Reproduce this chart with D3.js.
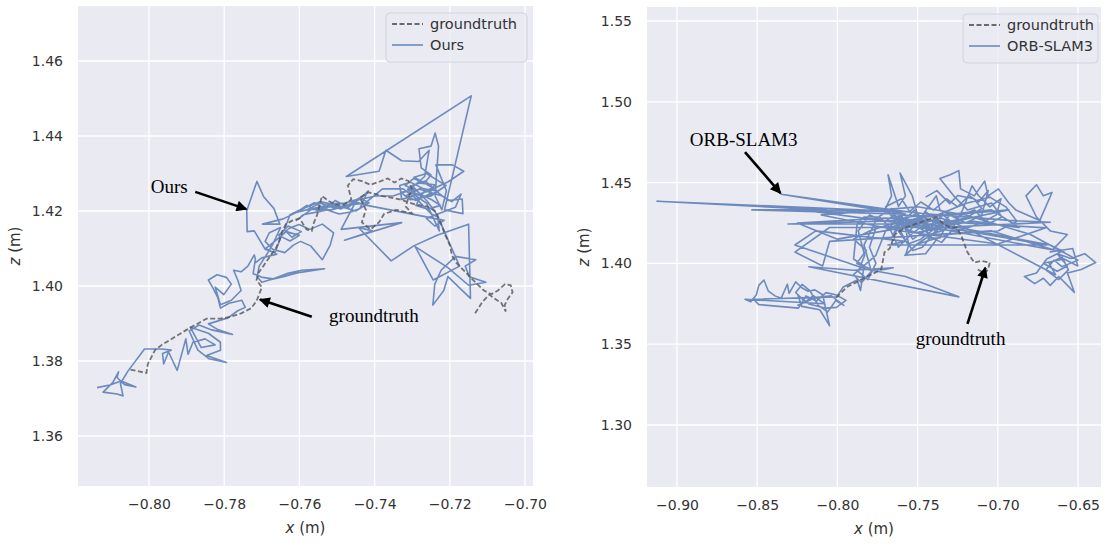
<!DOCTYPE html>
<html>
<head>
<meta charset="utf-8">
<script src="https://cdn.jsdelivr.net/npm/d3@7"></script>
<style>
  body { margin: 0; background: #fff; }
  svg { display: block; }
  .tick text { font-family: "DejaVu Sans", sans-serif; font-size: 14px; fill: #333; }
</style>
</head>
<body>
<svg></svg>
<script>
let width = 1105, height = 549;

// ---- data (metres) ----
// left panel: groundtruth and "Ours" trajectory, [x, z]
var gtLeft = [
  [-0.8049,1.3777],[-0.8007,1.3768],[-0.8003,1.3792],[-0.7984,1.3829],[-0.7966,1.3843],
  [-0.7897,1.3885],[-0.7847,1.3913],[-0.7810,1.3913],[-0.7783,1.3918],[-0.7755,1.3927],
  [-0.7728,1.3941],[-0.7714,1.3960],[-0.7705,1.3983],[-0.7700,1.3997],[-0.7714,1.4016],
  [-0.7709,1.4035],[-0.7696,1.4053],[-0.7677,1.4081],[-0.7663,1.4100],[-0.7654,1.4119],
  [-0.7645,1.4147],[-0.7636,1.4165],[-0.7618,1.4175],[-0.7599,1.4180],[-0.7590,1.4165],
  [-0.7581,1.4151],[-0.7567,1.4147],[-0.7563,1.4165],[-0.7553,1.4189],[-0.7540,1.4240],
  [-0.7521,1.4226],[-0.7503,1.4217],[-0.7480,1.4217],[-0.7462,1.4231],[-0.7471,1.4268],
  [-0.7457,1.4285],[-0.7434,1.4280],[-0.7411,1.4270],[-0.7388,1.4278],[-0.7365,1.4287],
  [-0.7347,1.4276],[-0.7329,1.4287],[-0.7310,1.4280],[-0.7301,1.4259],[-0.7310,1.4236],
  [-0.7317,1.4212],[-0.7301,1.4194],[-0.7343,1.4203],[-0.7375,1.4192],[-0.7388,1.4170],
  [-0.7411,1.4151],[-0.7434,1.4170],[-0.7423,1.4203],[-0.7439,1.4236],[-0.7416,1.4250],
  [-0.7379,1.4240],[-0.7333,1.4231],[-0.7291,1.4217],[-0.7260,1.4212],[-0.7237,1.4198],
  [-0.7223,1.4165],[-0.7212,1.4136],[-0.7200,1.4109],[-0.7194,1.4081],[-0.7182,1.4061],
  [-0.7163,1.4042],[-0.7145,1.4023],[-0.7127,1.4005],[-0.7109,1.3988],[-0.7090,1.3978],
  [-0.7072,1.3988],[-0.7053,1.4005],[-0.7038,1.4002],[-0.7033,1.3983],[-0.7045,1.3967],
  [-0.7054,1.3949],[-0.7051,1.3932],[-0.7063,1.3955],[-0.7077,1.3964],[-0.7095,1.3977],
  [-0.7113,1.3958],[-0.7127,1.3936],[-0.7136,1.3922]
];

var oursTraj = [
  [-0.8138,1.3729],[-0.8104,1.3736],[-0.8074,1.3747],[-0.8035,1.3731],[-0.8065,1.3737],
  [-0.8085,1.3756],[-0.8081,1.3771],[-0.8096,1.3743],[-0.8122,1.3717],[-0.8085,1.3712],
  [-0.8069,1.3707],[-0.8076,1.3740],[-0.8056,1.3773],[-0.8012,1.3832],[-0.7966,1.3832],
  [-0.7941,1.3829],[-0.7964,1.3820],[-0.7961,1.3792],[-0.7948,1.3824],[-0.7925,1.3775],
  [-0.7902,1.3859],[-0.7896,1.3818],[-0.7883,1.3850],[-0.7851,1.3859],[-0.7824,1.3843],
  [-0.7861,1.3836],[-0.7890,1.3890],[-0.7842,1.3874],[-0.7810,1.3850],[-0.7810,1.3829],
  [-0.7847,1.3815],[-0.7794,1.3796],[-0.7840,1.3806],[-0.7870,1.3829],[-0.7893,1.3880],
  [-0.7867,1.3896],[-0.7833,1.3883],[-0.7778,1.3871],[-0.7819,1.3885],[-0.7842,1.3899],
  [-0.7790,1.3915],[-0.7764,1.3934],[-0.7744,1.3943],[-0.7753,1.3962],[-0.7787,1.3954],
  [-0.7810,1.3941],[-0.7817,1.3969],[-0.7830,1.3995],[-0.7842,1.4016],[-0.7819,1.4030],
  [-0.7794,1.4023],[-0.7781,1.4005],[-0.7801,1.3977],[-0.7824,1.3997],[-0.7810,1.3950],
  [-0.7781,1.3962],[-0.7755,1.3988],[-0.7764,1.4016],[-0.7775,1.4042],[-0.7755,1.4038],
  [-0.7737,1.4053],[-0.7720,1.4083],[-0.7717,1.4072],[-0.7723,1.4033],[-0.7698,1.4023],
  [-0.7671,1.4019],[-0.7634,1.4033],[-0.7594,1.4042],[-0.7533,1.4046],[-0.7606,1.4035],
  [-0.7643,1.4025],[-0.7680,1.4016],[-0.7700,1.4010],[-0.7712,1.4025],[-0.7707,1.4053],
  [-0.7689,1.4081],[-0.7672,1.4109],[-0.7663,1.4128],[-0.7650,1.4156],[-0.7680,1.4142],
  [-0.7691,1.4119],[-0.7671,1.4098],[-0.7639,1.4089],[-0.7616,1.4109],[-0.7597,1.4119],
  [-0.7570,1.4107],[-0.7539,1.4070],[-0.7518,1.4109],[-0.7509,1.4142],[-0.7539,1.4165],
  [-0.7572,1.4151],[-0.7601,1.4164],[-0.7627,1.4154],[-0.7647,1.4136],[-0.7665,1.4089],
  [-0.7691,1.4098],[-0.7720,1.4147],[-0.7739,1.4145],[-0.7740,1.4201],[-0.7713,1.4279],
  [-0.7695,1.4238],[-0.7668,1.4207],[-0.7652,1.4165],[-0.7698,1.4165],[-0.7643,1.4179],
  [-0.7606,1.4197],[-0.7572,1.4205],[-0.7539,1.4212],[-0.7515,1.4220],[-0.7480,1.4221],
  [-0.7452,1.4229],[-0.7432,1.4238],[-0.7417,1.4254],[-0.7425,1.4238],[-0.7439,1.4207],
  [-0.7461,1.4198],[-0.7494,1.4192],[-0.7526,1.4203],[-0.7555,1.4197],[-0.7590,1.4190],
  [-0.7608,1.4175],[-0.7567,1.4205],[-0.7527,1.4211],[-0.7489,1.4212],[-0.7452,1.4221],
  [-0.7489,1.4151],[-0.7328,1.4169],[-0.7480,1.4122],[-0.7406,1.4147],[-0.7443,1.4156],
  [-0.7356,1.4067],[-0.7296,1.4107],[-0.7232,1.4136],[-0.7150,1.4165],[-0.7145,1.3967],
  [-0.7205,1.4025],[-0.7216,1.3988],[-0.7245,1.3949],[-0.7240,1.4005],[-0.7223,1.4042],
  [-0.7185,1.4079],[-0.7131,1.4070],[-0.7159,1.4053],[-0.7148,1.4025],[-0.7104,1.4010],
  [-0.7150,1.4002],[-0.7205,1.4049],[-0.7292,1.4105],[-0.7244,1.4016],[-0.7174,1.4053],
  [-0.7223,1.4165],[-0.7239,1.4198],[-0.7260,1.4226],[-0.7287,1.4254],[-0.7319,1.4268],
  [-0.7296,1.4287],[-0.7269,1.4273],[-0.7250,1.4296],[-0.7276,1.4315],[-0.7282,1.4366],
  [-0.7250,1.4373],[-0.7239,1.4408],[-0.7230,1.4373],[-0.7239,1.4240],[-0.7221,1.4203],
  [-0.7209,1.4254],[-0.7237,1.4323],[-0.7193,1.4323],[-0.7163,1.4306],[-0.7204,1.4278],
  [-0.7255,1.4254],[-0.7296,1.4240],[-0.7328,1.4231],[-0.7333,1.4268],[-0.7305,1.4277],
  [-0.7269,1.4259],[-0.7237,1.4254],[-0.7204,1.4228],[-0.7167,1.4232],[-0.7165,1.4193],
  [-0.7214,1.4203],[-0.7143,1.4507],[-0.7475,1.4292],[-0.7388,1.4306],[-0.7370,1.4362],
  [-0.7328,1.4334],[-0.7283,1.4332],[-0.7255,1.4362],[-0.7267,1.4292],[-0.7310,1.4254],
  [-0.7351,1.4240],[-0.7397,1.4240],[-0.7439,1.4231],[-0.7480,1.4212],[-0.7516,1.4203],
  [-0.7553,1.4205],[-0.7581,1.4203],[-0.7544,1.4221],[-0.7503,1.4207],[-0.7462,1.4217],
  [-0.7425,1.4221],[-0.7379,1.4259],[-0.7324,1.4259],[-0.7287,1.4231],[-0.7269,1.4212],
  [-0.7250,1.4193],[-0.7232,1.4184],[-0.7228,1.4147],
  [-0.7262,1.4221],[-0.7301,1.4248],[-0.7275,1.4262],[-0.7318,1.4240],[-0.7290,1.4228],
  [-0.7255,1.4245],[-0.7240,1.4270],[-0.7285,1.4275],[-0.7312,1.4258],[-0.7270,1.4236],
  [-0.7232,1.4252],[-0.7265,1.4280],[-0.7300,1.4268],[-0.7280,1.4245],[-0.7248,1.4230],
  [-0.7225,1.4215],[-0.7258,1.4205],[-0.7290,1.4215],[-0.7270,1.4250],[-0.7245,1.4262],
  [-0.7295,1.4290],[-0.7262,1.4300],[-0.7238,1.4285],[-0.7210,1.4268],[-0.7250,1.4240],
  [-0.7305,1.4230],[-0.7330,1.4250],[-0.7280,1.4258],[-0.7220,1.4240],[-0.7195,1.4225],
  [-0.7170,1.4245],[-0.7185,1.4210],[-0.7225,1.4195],[-0.7262,1.4180],[-0.7240,1.4160],
  [-0.7215,1.4175],
  [-0.7420,1.4215],[-0.7455,1.4225],[-0.7490,1.4205],[-0.7520,1.4218],[-0.7550,1.4200],
  [-0.7580,1.4215],[-0.7610,1.4195],[-0.7560,1.4222],[-0.7530,1.4205],[-0.7505,1.4228],
  [-0.7470,1.4210],[-0.7440,1.4235],[-0.7415,1.4222],[-0.7450,1.4200],[-0.7500,1.4215],
  [-0.7545,1.4225],[-0.7595,1.4205],[-0.7625,1.4190],[-0.7640,1.4150],[-0.7620,1.4130],
  [-0.7595,1.4145],[-0.7630,1.4160],[-0.7655,1.4135],[-0.7625,1.4120],[-0.7600,1.4135],
  [-0.7635,1.4145],[-0.7665,1.4120],[-0.7690,1.4100],[-0.7660,1.4085],[-0.7700,1.4075],
  [-0.7720,1.4060]
];

// right panel: groundtruth and ORB-SLAM3 trajectory, [x, z]
var gtRight = [
  [-0.8007,1.3788],[-0.7942,1.3853],[-0.7856,1.3897],[-0.7727,1.3962],[-0.7706,1.4070],
  [-0.7674,1.4092],[-0.7641,1.4179],[-0.7577,1.4222],[-0.7512,1.4244],[-0.7448,1.4266],
  [-0.7383,1.4287],[-0.7340,1.4244],[-0.7297,1.4222],[-0.7254,1.4222],[-0.7222,1.4157],
  [-0.7190,1.4070],[-0.7147,1.4005],[-0.7104,1.4016],[-0.7050,1.4005],[-0.7061,1.3962],
  [-0.7082,1.3940],[-0.7125,1.3962]
];

var orbTraj = [
  [-0.8250,1.3740],[-0.8130,1.3790],[-0.8040,1.3800],[-0.7960,1.3740],[-0.8010,1.3770],
  [-0.8060,1.3700],[-0.8120,1.3740],[-0.8170,1.3830],[-0.8220,1.3870],[-0.8260,1.3820],
  [-0.8200,1.3760],[-0.8150,1.3800],[-0.8080,1.3750],
  [-0.8576,1.3778],[-0.8540,1.3762],[-0.8505,1.3806],[-0.8490,1.3864],[-0.8458,1.3897],
  [-0.8430,1.3828],[-0.8389,1.3799],[-0.8351,1.3784],[-0.8312,1.3871],[-0.8301,1.3815],
  [-0.8260,1.3886],[-0.8222,1.3849],[-0.8183,1.3828],[-0.8140,1.3836],[-0.8092,1.3806],
  [-0.8049,1.3615],[-0.8110,1.3713],[-0.8222,1.3734],[-0.8247,1.3806],[-0.8178,1.3749],
  [-0.8071,1.3723],[-0.8006,1.3728],[-0.7946,1.3771],[-0.8011,1.3806],[-0.8071,1.3819],
  [-0.8131,1.3767],[-0.8196,1.3799],[-0.8243,1.3723],[-0.8490,1.3745],[-0.8523,1.3778],
  [-0.8006,1.3793],[-0.7963,1.3854],[-0.7877,1.3897],[-0.7856,1.3832],[-0.7834,1.3984],
  [-0.7899,1.4027],[-0.7877,1.4244],[-0.7834,1.4287],[-0.7748,1.4287],[-0.7834,1.4114],
  [-0.7791,1.3960],[-0.7705,1.3962],[-0.7652,1.3973],[-0.7899,1.3958],[-0.8178,1.3979],
  [-0.7243,1.3793],[-0.7576,1.3919],[-0.7813,1.3962],[-0.8265,1.4114],[-0.8135,1.4201],
  [-0.7576,1.4136],[-0.7684,1.4114],[-0.6695,1.4114],[-0.7576,1.4266],[-0.8308,1.4244],
  [-0.7361,1.4244],[-0.6673,1.4114],[-0.6587,1.4070],[-0.7404,1.4222],[-0.8222,1.4331],
  [-0.7576,1.4320],[-0.9125,1.4385],[-0.8071,1.4331],[-0.8533,1.4331],[-0.7576,1.4305],
  [-0.8351,1.4428],[-0.7662,1.4331],[-0.7469,1.4309],[-0.6931,1.4266],[-0.6673,1.4255],
  [-0.7361,1.4222],[-0.8049,1.4222],[-0.8265,1.4070],[-0.8092,1.3984],[-0.8049,1.4136],
  [-0.7039,1.4201],[-0.6608,1.4070],[-0.6695,1.4027],[-0.6759,1.3940],[-0.6834,1.3919],
  [-0.6770,1.3875],[-0.6716,1.3908],[-0.6673,1.3864],[-0.6620,1.3919],[-0.6523,1.3821],
  [-0.6566,1.3940],[-0.6480,1.3962],[-0.6389,1.4005],[-0.6458,1.4060],[-0.6544,1.4031],
  [-0.6630,1.4060],[-0.6566,1.3984],[-0.6630,1.3951],[-0.6716,1.4001],[-0.6587,1.4027],
  [-0.6501,1.3984],[-0.6533,1.4092],[-0.6673,1.4070],[-0.6566,1.4179],[-0.6673,1.4201],
  [-0.6759,1.4287],[-0.6824,1.4418],[-0.6759,1.4487],[-0.6716,1.4418],[-0.6662,1.4439],
  [-0.6738,1.4266],[-0.6888,1.4331],[-0.6931,1.4374],[-0.6996,1.4461],[-0.7060,1.4418],
  [-0.7082,1.4509],[-0.7146,1.4418],[-0.7232,1.4461],[-0.7243,1.4574],[-0.7297,1.4548],
  [-0.7361,1.4526],[-0.7275,1.4418],[-0.7189,1.4331],[-0.7039,1.4374],[-0.6974,1.4287],
  [-0.7060,1.4244],[-0.7146,1.4331],[-0.7254,1.4287],[-0.7361,1.4331],[-0.7383,1.4418],
  [-0.7447,1.4331],[-0.7490,1.4266],[-0.7533,1.4418],[-0.7609,1.4559],[-0.7576,1.4418],
  [-0.7619,1.4353],[-0.7684,1.4548],[-0.7662,1.4418],[-0.7705,1.4331],[-0.7576,1.4222],
  [-0.7555,1.4114],[-0.7576,1.4049],[-0.7512,1.4114],[-0.7447,1.4157],[-0.7361,1.4157],
  [-0.7318,1.4244],[-0.7146,1.4287],[-0.6931,1.4331],[-0.7447,1.4287],[-0.7619,1.4244],
  [-0.7662,1.4157],[-0.7576,1.4287],[-0.7254,1.4309],[-0.7039,1.4331],[-0.6866,1.4222],
  [-0.7150,1.4260],[-0.7300,1.4240],[-0.7450,1.4270],[-0.7600,1.4230],[-0.7520,1.4190],
  [-0.7400,1.4210],[-0.7480,1.4150],[-0.7560,1.4120],[-0.7620,1.4200],[-0.7550,1.4260],
  [-0.7420,1.4300],[-0.7350,1.4250],[-0.7470,1.4100],[-0.7530,1.4080],[-0.7580,1.4150],
  [-0.7650,1.4280],[-0.7700,1.4350],[-0.7600,1.4400],[-0.7550,1.4320],[-0.7480,1.4380],
  [-0.7400,1.4330],[-0.7320,1.4400],[-0.7250,1.4350],[-0.7180,1.4420],[-0.7120,1.4380],
  [-0.7060,1.4450],[-0.7100,1.4300],[-0.7200,1.4250],[-0.7300,1.4300],[-0.7380,1.4200],
  [-0.7460,1.4240],[-0.7540,1.4180],[-0.7620,1.4100],[-0.7680,1.4230],[-0.7740,1.4290],
  [-0.7660,1.4340],[-0.7590,1.4270],[-0.7500,1.4310],[-0.7420,1.4160],[-0.7350,1.4130],
  [-0.7290,1.4200],[-0.7220,1.4330],[-0.7160,1.4480],[-0.7120,1.4420],[-0.7050,1.4350],
  [-0.6980,1.4400],[-0.7010,1.4300],[-0.7100,1.4250],[-0.7250,1.4200],[-0.7480,1.4220],
  [-0.7650,1.4250],[-0.7800,1.4200],[-0.7900,1.4150],[-0.7820,1.4080],[-0.7880,1.4000],
  [-0.7780,1.3960],[-0.7850,1.3880],[-0.7900,1.3930],[-0.7760,1.4050],[-0.7700,1.4200],
  [-0.7600,1.4300],[-0.7400,1.4290],[-0.7200,1.4370],[-0.7050,1.4410],[-0.6950,1.4350],
  [-0.6880,1.4260],[-0.7000,1.4200],[-0.7300,1.4180],[-0.7500,1.4120],[-0.7580,1.4050],
  [-0.7450,1.4060],[-0.7380,1.4150],[-0.7600,1.4220],[-0.8000,1.4150],[-0.8250,1.4250],
  [-0.7700,1.4280],[-0.6700,1.4220],[-0.7000,1.4120],[-0.7600,1.4200],[-0.8100,1.4300],
  [-0.7500,1.4350],[-0.7200,1.4300],[-0.6800,1.4180],[-0.6500,1.4020],
  [-0.6600,1.3980],[-0.6650,1.4020],[-0.6700,1.3960],[-0.6620,1.3900],[-0.6560,1.3960],
  [-0.6600,1.4040],[-0.6680,1.4000],[-0.6640,1.3930],
  [-0.7200,1.4220],[-0.7350,1.4280],[-0.7500,1.4240],[-0.7650,1.4300],[-0.7550,1.4200],
  [-0.7450,1.4320],[-0.7320,1.4210],[-0.7420,1.4180],[-0.7560,1.4260],[-0.7480,1.4290],
  [-0.7380,1.4250],[-0.7530,1.4150],[-0.7600,1.4250],[-0.7520,1.4330],[-0.7430,1.4230],
  [-0.7340,1.4300],[-0.7270,1.4240],[-0.7400,1.4270],[-0.7550,1.4230],[-0.7620,1.4320],
  [-0.7700,1.4260],[-0.7800,1.4300],[-0.7870,1.4200],[-0.7830,1.4050],[-0.7870,1.3950],
  [-0.7810,1.3900],[-0.7760,1.4000],[-0.7800,1.4100],[-0.7760,1.4220],[-0.7650,1.4230],
  [-0.7500,1.4260],[-0.7380,1.4230],[-0.7300,1.4260],[-0.7200,1.4280],[-0.7100,1.4340],
  [-0.7150,1.4400],[-0.7250,1.4420],[-0.7300,1.4370],[-0.7380,1.4450],[-0.7450,1.4410]
];

// tick values
var leftXTicks = [-0.80, -0.78, -0.76, -0.74, -0.72, -0.70];
var leftZTicks = [1.36, 1.38, 1.40, 1.42, 1.44, 1.46];
var rightXTicks = [-0.90, -0.85, -0.80, -0.75, -0.70, -0.65];
var rightZTicks = [1.30, 1.35, 1.40, 1.45, 1.50, 1.55];

// annotations: text anchor, arrow tail, arrow tip (data units)
var leftNotes = [
  {text: "Ours", anchor: "end", at: [-0.7897, 1.4247], from: [-0.7877, 1.4251], to: [-0.7741, 1.4205]},
  {text: "groundtruth", anchor: "start", at: [-0.7521, 1.3904], from: [-0.7567, 1.3918], to: [-0.7705, 1.3964]}
];
var rightNotes = [
  {text: "ORB-SLAM3", anchor: "start", at: [-0.8920, 1.4726], from: [-0.8576, 1.4689], to: [-0.8355, 1.4435]},
  {text: "groundtruth", anchor: "start", at: [-0.7512, 1.3496], from: [-0.7189, 1.3626], to: [-0.7077, 1.3973]}
];

let svg = d3.select("svg")
    .attr("width", width)
    .attr("height", height)
    .attr("viewBox", "0 0 " + width + " " + height);

svg.append("defs").append("marker")
    .attr("id", "head")
    .attr("viewBox", "0 0 10 10")
    .attr("refX", 9).attr("refY", 5)
    .attr("markerWidth", 5).attr("markerHeight", 4.2)
    .attr("markerUnits", "strokeWidth")
    .attr("orient", "auto")
  .append("path")
    .attr("d", "M0,0 L10,5 L0,10 z")
    .attr("fill", "#000");

function panel(opt) {
    let x = d3.scaleLinear().domain(opt.xDomain).range([opt.left, opt.right]);
    let y = d3.scaleLinear().domain(opt.yDomain).range([opt.bottom, opt.top]);
    let g = svg.append("g");

    g.append("rect")
        .attr("x", opt.left).attr("y", opt.top)
        .attr("width", opt.right - opt.left).attr("height", opt.bottom - opt.top)
        .attr("fill", "#eaeaf2");

    // grid
    g.append("g").selectAll("line").data(opt.xTicks).enter().append("line")
        .attr("x1", d => x(d)).attr("x2", d => x(d))
        .attr("y1", opt.top).attr("y2", opt.bottom)
        .attr("stroke", "#fff").attr("stroke-width", 1.3);
    g.append("g").selectAll("line").data(opt.yTicks).enter().append("line")
        .attr("y1", d => y(d)).attr("y2", d => y(d))
        .attr("x1", opt.left).attr("x2", opt.right)
        .attr("stroke", "#fff").attr("stroke-width", 1.3);

    // axes (labels only, seaborn style)
    let xa = g.append("g")
        .attr("transform", "translate(0," + opt.bottom + ")")
        .call(d3.axisBottom(x).tickValues(opt.xTicks).tickFormat(d3.format(".2f")).tickSize(0).tickPadding(13));
    let ya = g.append("g")
        .attr("transform", "translate(" + opt.left + ",0)")
        .call(d3.axisLeft(y).tickValues(opt.yTicks).tickFormat(d3.format(".2f")).tickSize(0).tickPadding(15));
    xa.select(".domain").remove();
    ya.select(".domain").remove();

    g.append("text")
        .attr("x", (opt.left + opt.right) / 2).attr("y", opt.bottom + 47)
        .attr("text-anchor", "middle")
        .attr("font-family", "DejaVu Sans, sans-serif").attr("font-size", 15).attr("fill", "#333")
        .html('<tspan font-style="italic">x</tspan> (m)');
    g.append("text")
        .attr("transform", "translate(" + (opt.left - 58) + "," + ((opt.top + opt.bottom) / 2) + ") rotate(-90)")
        .attr("text-anchor", "middle")
        .attr("font-family", "DejaVu Sans, sans-serif").attr("font-size", 15).attr("fill", "#333")
        .html('<tspan font-style="italic">z</tspan> (m)');

    let clip = "clip" + opt.id;
    g.append("clipPath").attr("id", clip).append("rect")
        .attr("x", opt.left).attr("y", opt.top)
        .attr("width", opt.right - opt.left).attr("height", opt.bottom - opt.top);

    let line = d3.line().x(d => x(d[0])).y(d => y(d[1]));

    let marks = g.append("g").attr("clip-path", "url(#" + clip + ")");
    marks.append("path")
        .datum(opt.est)
        .attr("d", line)
        .attr("fill", "none")
        .attr("stroke", "#4c72b0").attr("stroke-opacity", 0.8)
        .attr("stroke-width", 1.6).attr("stroke-linejoin", "round");
    marks.append("path")
        .datum(opt.gt)
        .attr("d", line)
        .attr("fill", "none")
        .attr("stroke", "#555").attr("stroke-opacity", 0.8)
        .attr("stroke-width", 1.8)
        .attr("stroke-dasharray", "5,2.5");

    // annotations
    opt.notes.forEach(n => {
        g.append("line")
            .attr("x1", x(n.from[0])).attr("y1", y(n.from[1]))
            .attr("x2", x(n.to[0])).attr("y2", y(n.to[1]))
            .attr("stroke", "#000").attr("stroke-width", 2.6)
            .attr("marker-end", "url(#head)");
        g.append("text")
            .attr("x", x(n.at[0])).attr("y", y(n.at[1]))
            .attr("text-anchor", n.anchor)
            .attr("font-family", "Liberation Serif, Times New Roman, serif")
            .attr("font-size", 19).attr("fill", "#000")
            .text(n.text);
    });

    // legend
    let lg = g.append("g").attr("transform", "translate(" + opt.legendX + "," + (opt.top + 7) + ")");
    lg.append("rect")
        .attr("width", opt.legendW).attr("height", 49).attr("rx", 4)
        .attr("fill", "#eaeaf2").attr("fill-opacity", 0.8)
        .attr("stroke", "#d2d2da").attr("stroke-width", 1);
    lg.append("line")
        .attr("x1", 6).attr("x2", 37).attr("y1", 11).attr("y2", 11)
        .attr("stroke", "#555").attr("stroke-opacity", 0.85).attr("stroke-width", 1.8)
        .attr("stroke-dasharray", "5,2.5");
    lg.append("line")
        .attr("x1", 6).attr("x2", 37).attr("y1", 32).attr("y2", 32)
        .attr("stroke", "#4c72b0").attr("stroke-opacity", 0.8).attr("stroke-width", 1.6);
    lg.selectAll("text").data(["groundtruth", opt.name]).enter().append("text")
        .attr("x", 44).attr("y", (d, i) => 16 + i * 21)
        .attr("font-family", "DejaVu Sans, sans-serif").attr("font-size", 14.5).attr("fill", "#333")
        .text(d => d);
}

panel({
    id: "L", left: 78, right: 533, top: 6, bottom: 486,
    xDomain: [-0.81888, -0.69787], yDomain: [1.34667, 1.47467],
    xTicks: leftXTicks, yTicks: leftZTicks,
    est: oursTraj, gt: gtLeft, notes: leftNotes,
    name: "Ours", legendX: 386, legendW: 141
});

panel({
    id: "R", left: 647, right: 1101, top: 7, bottom: 487,
    xDomain: [-0.91870, -0.63566], yDomain: [1.26163, 1.55866],
    xTicks: rightXTicks, yTicks: rightZTicks,
    est: orbTraj, gt: gtRight, notes: rightNotes,
    name: "ORB-SLAM3", legendX: 963, legendW: 135
});
</script>
</body>
</html>
